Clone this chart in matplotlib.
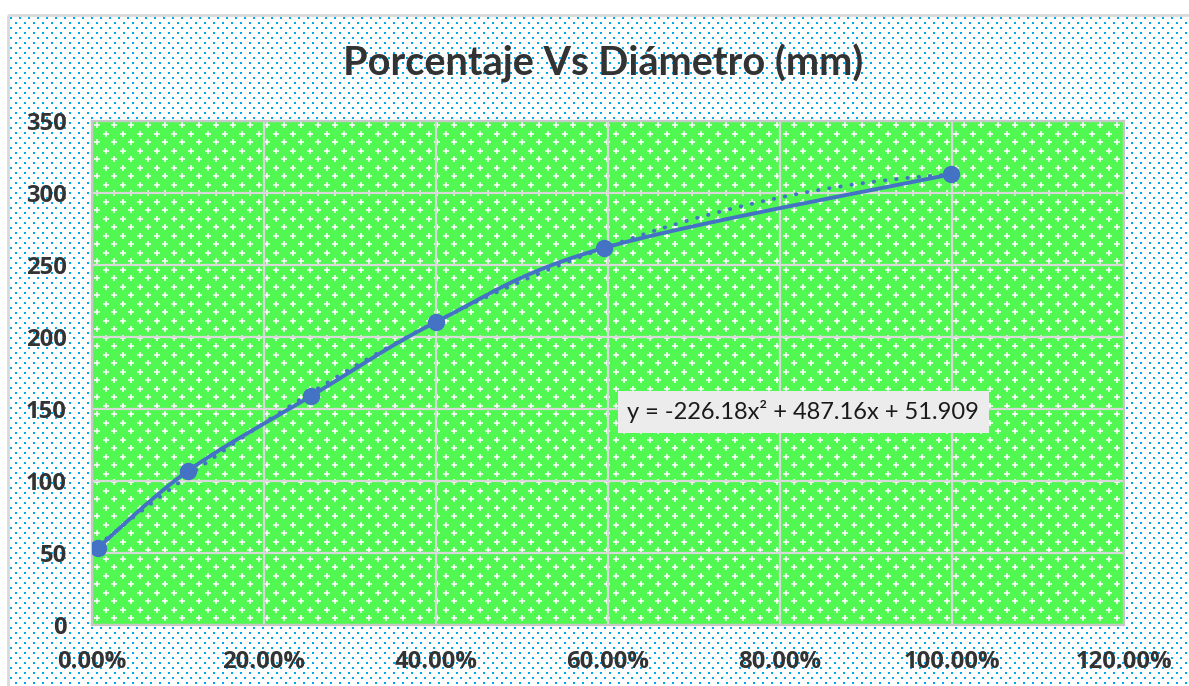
import numpy as np
import matplotlib.pyplot as plt
from matplotlib.patches import Rectangle

# Percentage passing vs particle diameter
porcentaje = [0.0066, 0.1116, 0.2547, 0.400, 0.595, 0.999]
diametro = [53.5, 107.0, 159.0, 210.4, 261.8, 313.0]

# Polynomial trendline (order 2)
coef = [-226.18, 487.16, 51.909]
ecuacion = 'y = -226.18x\u00b2 + 487.16x + 51.909'

titulo = 'Porcentaje Vs Diámetro (mm)'
x_ticks = [0, 0.2, 0.4, 0.6, 0.8, 1.0, 1.2]
y_ticks = [0, 50, 100, 150, 200, 250, 300, 350]

W, H = 1189, 686
plt.rcParams['font.family'] = ['Lato', 'DejaVu Sans']

fig = plt.figure(figsize=(W / 100, H / 100), dpi=100)
fig.patch.set_facecolor('white')

# plot area in pixels
L, R, T, B = 92, 1124, 121, 625

# background layer with dotted fill patterns
bg = fig.add_axes([0, 0, 1, 1], zorder=0)
bg.set_xlim(0, W)
bg.set_ylim(H, 0)
bg.axis('off')

gx, gy = [], []
for j, yy in enumerate(np.arange(18, H, 5)):
    off = 4.5 if j % 2 else 0
    for xx in np.arange(11 + off, W, 9):
        if L - 2 <= xx <= R + 2 and T - 2 <= yy <= B + 2:
            continue
        gx.append(xx)
        gy.append(yy)
bg.scatter(gx, gy, s=4.0, marker='s', color='#00a8ec', linewidths=0)

# chart border
bg.add_patch(Rectangle((8, 15), W, H, fill=False, edgecolor='#d9d9d9', lw=2))

# green plot-area fill with white crosses
bg.add_patch(Rectangle((L, T), R - L, B - T, facecolor='#52f852', edgecolor='none'))
px, py = [], []
for j, yy in enumerate(np.arange(T + 4, B, 8.5)):
    off = 8.5 if j % 2 else 0
    for xx in np.arange(L + 5 + off, R, 17):
        px.append(xx)
        py.append(yy)
bg.scatter(px, py, s=18, marker='+', color='white', linewidths=1.1)

ax = fig.add_axes([L / W, 1 - B / H, (R - L) / W, (B - T) / H], zorder=1)
ax.set_facecolor('none')
ax.set_xlim(0, 1.2)
ax.set_ylim(0, 350)
ax.set_xticks(x_ticks)
ax.set_yticks(y_ticks)
ax.set_xticklabels([f'{v * 100:.2f}%' for v in x_ticks])
ax.grid(True, color='#d9d9d9', lw=1.6)
ax.set_axisbelow(True)
for s in ax.spines.values():
    s.set_color('#c8c8c8')
    s.set_linewidth(1.6)
ax.tick_params(length=0, labelsize=17.2, labelcolor='#333333', pad=18)
for lab in ax.get_xticklabels() + ax.get_yticklabels():
    lab.set_fontfamily(['Open Sans', 'DejaVu Sans'])
    lab.set_fontweight('bold')

# smoothed series line (Catmull-Rom through the points, in pixel scale)
sx, sy = (R - L) / 1.2, (B - T) / 350
P = np.column_stack([np.array(porcentaje) * sx, np.array(diametro) * sy])
Pe = np.vstack([P[0], P, P[-1]])
curve = []
t = np.linspace(0, 1, 40)[:, None]
for i in range(len(P) - 1):
    p0, p1, p2, p3 = Pe[i], Pe[i + 1], Pe[i + 2], Pe[i + 3]
    c1 = p1 + (p2 - p0) / 6
    c2 = p2 - (p3 - p1) / 6
    seg = ((1 - t) ** 3) * p1 + 3 * ((1 - t) ** 2) * t * c1 + 3 * (1 - t) * t ** 2 * c2 + t ** 3 * p2
    curve.append(seg)
curve = np.vstack(curve)
ax.plot(curve[:, 0] / sx, curve[:, 1] / sy, color='#4472c4', lw=2.8,
        solid_capstyle='round', zorder=3)
ax.plot(porcentaje, diametro, 'o', color='#4472c4', ms=11.5, zorder=4)

# trendline
xt = np.linspace(porcentaje[0], porcentaje[-1], 200)
ax.plot(xt, np.polyval(coef, xt), color='#4472c4', lw=2.8,
        linestyle=(0, (0.1, 2.8)), dash_capstyle='round', zorder=3)

ax.text(0.827, 148, ecuacion, ha='center', va='center', fontsize=17,
        color='#1a1a1a', zorder=5,
        bbox=dict(boxstyle='square,pad=0.4', facecolor='#ececec', edgecolor='none'))

fig.text(603 / W, 1 - 63 / H, titulo, ha='center', va='center', fontsize=28.5,
         fontweight='bold', color='#333333')

fig.savefig('out.png', dpi=100)
